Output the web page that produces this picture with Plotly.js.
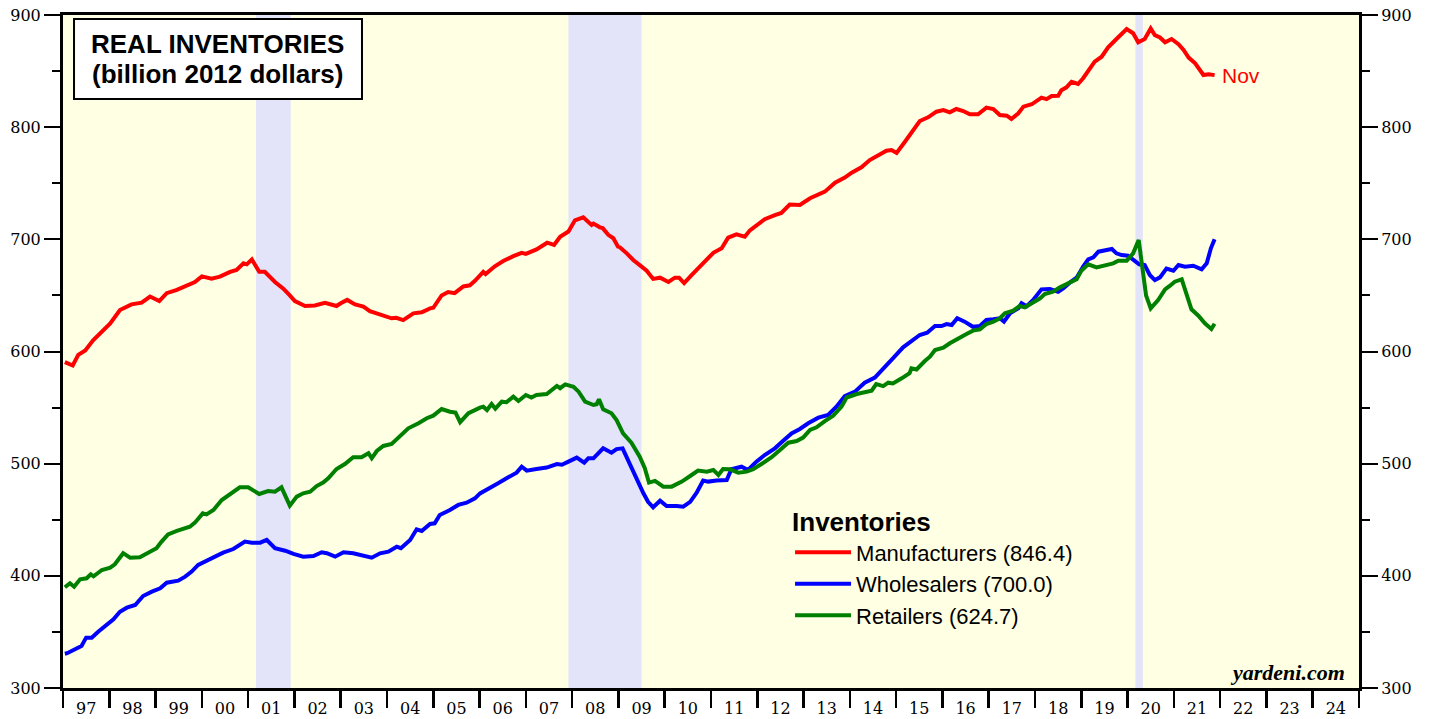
<!DOCTYPE html>
<html>
<head>
<meta charset="utf-8">
<script src="https://cdn.plot.ly/plotly-3.0.1.min.js"></script>
<style>html,body{margin:0;padding:0;background:#fff;}#chart{width:1431px;height:719px;}</style>
</head>
<body>
<div id="chart"></div>
<script>
// ---- Data (decimal years, billion 2012 dollars) ----
const mfgDates = [1997.04,1997.12,1997.21,1997.33,1997.48,1997.65,1997.84,1998.02,1998.23,1998.48,1998.70,1998.88,1999.08,1999.24,1999.46,1999.71,1999.85,2000.00,2000.21,2000.39,2000.61,2000.75,2000.90,2000.97,2001.08,2001.24,2001.36,2001.58,2001.76,2001.90,2002.01,2002.23,2002.44,2002.66,2002.91,2003.00,2003.14,2003.31,2003.49,2003.63,2003.88,2004.10,2004.20,2004.35,2004.57,2004.75,2004.93,2005.00,2005.18,2005.32,2005.46,2005.65,2005.79,2005.90,2006.08,2006.13,2006.33,2006.51,2006.73,2006.91,2007.00,2007.23,2007.46,2007.61,2007.74,2007.92,2008.06,2008.24,2008.42,2008.46,2008.60,2008.66,2008.78,2008.89,2008.99,2009.03,2009.18,2009.32,2009.46,2009.61,2009.75,2009.90,2010.08,2010.22,2010.31,2010.42,2010.58,2010.72,2010.90,2011.05,2011.23,2011.37,2011.55,2011.73,2011.84,2011.98,2012.16,2012.38,2012.52,2012.70,2012.92,2013.14,2013.35,2013.46,2013.68,2013.89,2014.04,2014.25,2014.43,2014.61,2014.79,2014.90,2015.01,2015.19,2015.37,2015.51,2015.69,2015.87,2016.02,2016.16,2016.30,2016.45,2016.59,2016.77,2016.95,2017.10,2017.24,2017.39,2017.49,2017.64,2017.75,2017.93,2018.14,2018.25,2018.36,2018.50,2018.57,2018.68,2018.79,2018.93,2019.04,2019.19,2019.29,2019.44,2019.58,2019.76,2019.98,2020.12,2020.23,2020.37,2020.50,2020.59,2020.70,2020.81,2020.95,2021.10,2021.21,2021.32,2021.46,2021.64,2021.75,2021.88];
const mfgValues = [590.5,589,587.5,597,601,610,617.7,625,637,642,643.5,649,645,652,655,660,662,667,665,666.7,671,672.7,678.6,677.7,682,671,671,662,656,650,645,640.6,641,643.5,640.6,643,646,642,640,636,632.5,629.6,630,628,634,635,638.5,639,650,653,652,658,659,663,671,669,676,680.7,685,688,687,691,697,695,702.3,707,717,719.6,712.8,714,710.7,710,704,701,693.5,693,687.5,681.6,677,672,664.7,665.8,662,665.8,665.8,661,668,674,681.6,688,692,701.5,704.5,702.4,708,712,718,721.5,723.5,731,730.6,736.6,740.1,742.5,750.5,755,759.4,764.2,770.7,775.2,779,779.6,777,787,797.5,805.5,808.8,813.8,815.3,813.2,816.2,814.4,811.5,811.5,817.4,816.2,810.8,810.2,807.3,812.4,818.3,820.4,826.3,825,827.8,828,833,835.5,840.5,838.5,843.6,852.5,858.4,862.8,871.2,878.6,887.5,883.7,875.7,878.6,888,882,880,875.7,878.6,873.9,868.8,862,857,846.5,847.1,846.4];

const whsDates = [1997.04,1997.09,1997.26,1997.40,1997.50,1997.62,1997.76,1997.94,1998.09,1998.23,1998.38,1998.56,1998.73,1998.92,1999.10,1999.24,1999.49,1999.64,1999.78,1999.92,2000.10,2000.28,2000.46,2000.68,2000.93,2001.08,2001.26,2001.40,2001.58,2001.80,2001.98,2002.19,2002.41,2002.59,2002.70,2002.88,2003.06,2003.27,2003.49,2003.67,2003.85,2004.03,2004.21,2004.30,2004.50,2004.64,2004.75,2004.93,2005.03,2005.14,2005.36,2005.54,2005.72,2005.79,2005.90,2006.01,2006.22,2006.40,2006.62,2006.80,2006.91,2007.02,2007.23,2007.45,2007.67,2007.78,2007.92,2008.10,2008.26,2008.35,2008.46,2008.67,2008.85,2008.96,2009.09,2009.25,2009.39,2009.54,2009.64,2009.75,2009.90,2010.04,2010.26,2010.40,2010.55,2010.69,2010.83,2010.94,2011.12,2011.34,2011.44,2011.66,2011.80,2011.98,2012.16,2012.38,2012.56,2012.74,2012.92,2013.10,2013.32,2013.53,2013.71,2013.89,2014.11,2014.32,2014.54,2014.72,2014.93,2015.15,2015.33,2015.51,2015.67,2015.84,2015.98,2016.09,2016.20,2016.32,2016.48,2016.66,2016.81,2016.95,2017.10,2017.24,2017.33,2017.46,2017.64,2017.71,2017.82,2017.96,2018.14,2018.32,2018.50,2018.61,2018.75,2018.90,2019.04,2019.15,2019.26,2019.37,2019.55,2019.66,2019.76,2019.87,2020.01,2020.12,2020.25,2020.37,2020.48,2020.59,2020.70,2020.84,2020.99,2021.10,2021.24,2021.42,2021.60,2021.71,2021.80,2021.88];
const whsValues = [330.5,331,334.5,337.5,344.9,344.9,350.2,356.2,361.3,368,371.6,374,382,385.9,388.9,393.9,395.7,399.3,403.8,409.7,413.2,417.1,420.7,423.9,430.5,429.6,429.6,432,424.6,422.4,419.5,417.1,417.7,421,420.2,417.1,421,420.1,417.7,416.2,420.1,421.5,426,424.6,432,441.5,440,446.2,446.8,454.3,458.7,463.2,465.2,467,469.1,473.5,478,482.5,487.8,492,497.3,493.8,495.3,496.5,499.7,499,501.8,505.4,500.9,504.8,504.8,513.7,509.8,513,513.7,498.8,485.4,473.6,466,461.1,467,462.3,462.3,461.7,466,474.1,484.9,484,484.9,485.4,495,497.3,494.4,501.8,507.7,513.7,520.5,527,530.9,536,541,543.4,550.8,560.3,564.2,572.2,576.7,584.1,593.9,603.7,608.8,614.7,616.8,622.7,622.7,624.5,623.6,629.6,626.6,622,622.7,628.1,628.7,629.6,626.6,634,638.5,643,640.4,645.9,655.4,655.7,653.3,656.3,661.4,665.8,675.6,682.2,684,689,690.5,691.4,687.5,686,685.4,681.6,677.7,677.1,668.2,663.7,666.1,674,672,677.1,675.6,676.5,673.3,678.6,692,700.0];

const rtlDates = [1997.04,1997.15,1997.24,1997.37,1997.51,1997.60,1997.66,1997.84,1998.02,1998.12,1998.30,1998.45,1998.66,1998.84,1999.02,1999.13,1999.27,1999.46,1999.60,1999.74,1999.85,2000.02,2000.10,2000.25,2000.43,2000.64,2000.82,2001.00,2001.11,2001.24,2001.43,2001.58,2001.72,2001.90,2002.05,2002.19,2002.34,2002.48,2002.62,2002.73,2002.91,2003.09,2003.27,2003.45,2003.60,2003.67,2003.78,2003.92,2004.10,2004.28,2004.46,2004.68,2004.86,2005.00,2005.18,2005.36,2005.48,2005.58,2005.76,2006.01,2006.08,2006.16,2006.26,2006.34,2006.48,2006.58,2006.73,2006.84,2007.00,2007.12,2007.23,2007.45,2007.67,2007.74,2007.85,2008.03,2008.14,2008.28,2008.46,2008.53,2008.58,2008.67,2008.85,2008.96,2009.10,2009.28,2009.46,2009.57,2009.66,2009.79,2009.97,2010.15,2010.37,2010.55,2010.72,2010.91,2011.05,2011.16,2011.26,2011.41,2011.59,2011.77,2011.91,2012.09,2012.31,2012.49,2012.67,2012.85,2012.99,2013.14,2013.28,2013.46,2013.64,2013.82,2013.93,2014.15,2014.32,2014.47,2014.57,2014.72,2014.83,2014.93,2015.12,2015.29,2015.33,2015.44,2015.62,2015.73,2015.84,2016.02,2016.16,2016.34,2016.52,2016.66,2016.81,2016.95,2017.10,2017.24,2017.35,2017.53,2017.67,2017.78,2017.96,2018.11,2018.21,2018.39,2018.54,2018.72,2018.90,2019.00,2019.15,2019.33,2019.55,2019.69,2019.80,2019.98,2020.12,2020.24,2020.40,2020.50,2020.66,2020.81,2020.91,2021.02,2021.17,2021.24,2021.38,2021.53,2021.67,2021.81,2021.88];
const rtlValues = [389.8,393.4,390.3,396.9,397.8,401.4,399.6,405.2,407.3,410.3,420.2,416.2,416.5,420.1,424.6,430.5,437,440,441.8,443.8,447.4,455.7,454.8,458.7,467.6,474.1,478.9,478.9,476,473,475.6,475,478.9,462.6,470.6,473.6,475,480,483.1,487,495.3,499.7,505.7,505.7,509.3,504.8,511.3,515.8,517.6,524,531.5,536,540.5,542.8,548.7,546.3,545.5,537,545,550,550.8,547.8,553.2,549,555.3,554.8,559.7,555.9,561.2,559,561.2,562.1,569.3,567.3,570.7,568.6,564.2,555.3,552.3,553,557.4,548.5,544.9,538.9,527,518.7,506.2,495.9,483.1,484.6,479.5,479.5,484,489,493.8,492.9,494.4,489.9,495.3,495,492,492.9,495,499.7,505.7,512.2,518.7,520.2,523.2,530,532.4,538,542.8,550.8,559,562.1,563.3,565.1,571,569.2,572.2,571.6,576.1,580.6,585,584,591.5,595.4,601.3,603.4,607.3,611.8,615.6,618.6,619.8,624.5,626.6,629.6,634,636.4,640.6,639.4,643.5,647.4,651.3,653.3,657.2,660.8,664.4,672,677.7,675,677.7,678.6,681,681,687.5,699.4,650,638.5,645.9,655.4,658.4,662.2,664.4,656.3,637.6,631.9,625.1,620.1,624.7];

const seriesNames = ['Manufacturers (846.4)','Wholesalers (700.0)','Retailers (624.7)'];
const seriesColors = ['#FF0000','#0000FF','#008000'];
const recessionStarts = [2001.17, 2007.92, 2020.17];
const recessionEnds   = [2001.92, 2009.50, 2020.33];
const yearTickVals = [];
const yearTickText = [];
for (let y = 1997; y <= 2024; y++) { yearTickVals.push(y + 0.5); yearTickText.push(String(y).slice(2)); }
const lastLabel = 'Nov';

const lineW = 4;
const traces = [
  {x: mfgDates, y: mfgValues, name: seriesNames[0], type: 'scatter', mode: 'lines', line: {color: seriesColors[0], width: lineW}, yaxis: 'y'},
  {x: whsDates, y: whsValues, name: seriesNames[1], type: 'scatter', mode: 'lines', line: {color: seriesColors[1], width: lineW}, yaxis: 'y'},
  {x: rtlDates, y: rtlValues, name: seriesNames[2], type: 'scatter', mode: 'lines', line: {color: seriesColors[2], width: lineW}, yaxis: 'y2'}
];

const shapes = recessionStarts.map((s, i) => ({
  type: 'rect', xref: 'x', yref: 'paper', x0: s, x1: recessionEnds[i], y0: 0, y1: 1,
  fillcolor: '#E3E3FA', line: {width: 0}, layer: 'below'
}));
shapes.push({type: 'rect', xref: 'paper', yref: 'paper', x0: 0.0085, x1: 0.2307, y0: 0.8752, y1: 0.994,
  fillcolor: '#FFFFFF', line: {color: '#000', width: 2}, layer: 'above'});

const tickFont = {family: 'DejaVu Serif, serif', size: 16, color: '#000'};
const yCommon = {
  range: [300, 900], tickmode: 'array', tickvals: [300,400,500,600,700,800,900],
  ticks: 'outside', ticklen: 16, tickwidth: 2, tickcolor: '#000',
  showline: true, linewidth: 3, linecolor: '#000', showgrid: false, zeroline: false,
  tickfont: tickFont,
  minor: {tickmode: 'linear', tick0: 300, dtick: 50, ticks: 'outside', ticklen: 8, tickwidth: 2, tickcolor: '#000', showgrid: false}
};

const sans = 'Liberation Sans, Arial, sans-serif';
const layout = {
  width: 1431, height: 719,
  margin: {l: 63, r: 72, t: 15, b: 31, pad: 0},
  paper_bgcolor: '#FFFFFF', plot_bgcolor: '#FFFFE3',
  showlegend: true,
  xaxis: {
    range: [1997, 2025], tickmode: 'array', tickvals: yearTickVals, ticktext: yearTickText,
    ticks: 'outside', ticklen: 4, tickcolor: 'rgba(0,0,0,0)',
    showline: true, linewidth: 3, linecolor: '#000', mirror: true, showgrid: false, zeroline: false,
    tickfont: tickFont,
    minor: {tickmode: 'linear', tick0: 1997, dtick: 1, ticks: 'outside', ticklen: 17, tickwidth: 2.5, tickcolor: '#000', showgrid: false}
  },
  yaxis: Object.assign({}, yCommon, {side: 'left'}),
  yaxis2: Object.assign({}, yCommon, {side: 'right', overlaying: 'y', anchor: 'x'}),
  legend: {
    x: 0.561, xanchor: 'left', y: 0.283, yanchor: 'top',
    bgcolor: 'rgba(0,0,0,0)', borderwidth: 0,
    font: {family: sans, size: 22, color: '#000'},
    title: {text: 'Inventories', font: {family: sans, size: 26, color: '#000', weight: 'bold'}},
    itemwidth: 56, tracegroupgap: 0
  },
  shapes: shapes,
  annotations: [
    {xref: 'paper', yref: 'paper', x: 0.1195, y: 0.9569, xanchor: 'center', yanchor: 'middle', showarrow: false,
     text: 'REAL INVENTORIES', font: {family: sans, size: 26, color: '#000', weight: 'bold'}},
    {xref: 'paper', yref: 'paper', x: 0.1195, y: 0.9123, xanchor: 'center', yanchor: 'middle', showarrow: false,
     text: '(billion 2012 dollars)', font: {family: sans, size: 26, color: '#000', weight: 'bold'}},
    {xref: 'x', yref: 'y', x: mfgDates[mfgDates.length - 1], y: mfgValues[mfgValues.length - 1], xanchor: 'left', yanchor: 'middle',
     xshift: 5, showarrow: false, text: lastLabel, font: {family: sans, size: 21, color: '#FF0000'}},
    {xref: 'paper', yref: 'paper', x: 0.9907, y: 0.0223, xanchor: 'right', yanchor: 'middle', showarrow: false,
     text: 'yardeni.com', font: {family: 'Liberation Serif, serif', size: 22, color: '#000', weight: 'bold', style: 'italic'}}
  ]
};

Plotly.newPlot('chart', traces, layout, {displayModeBar: false, staticPlot: true});
</script>
</body>
</html>
